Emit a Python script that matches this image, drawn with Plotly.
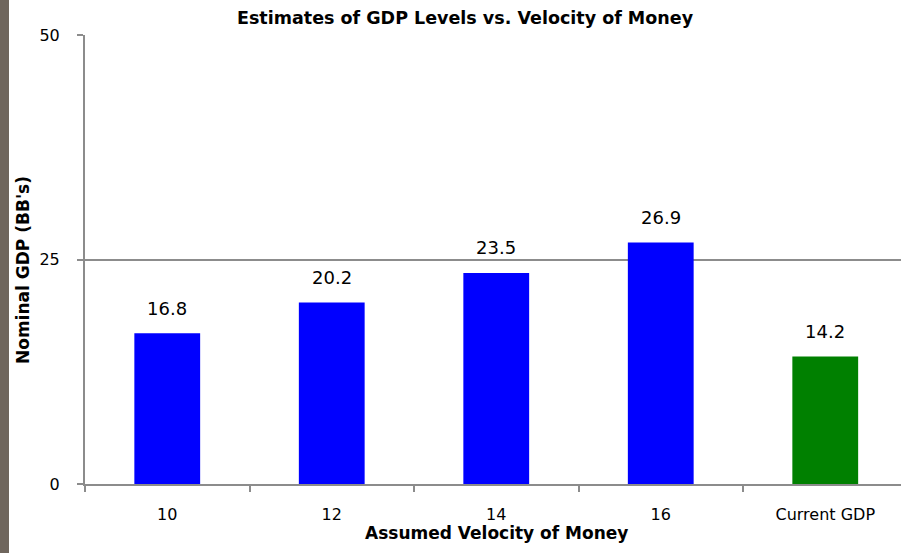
import plotly.graph_objects as go

# data
categories = ["10", "12", "14", "16", "Current GDP"]
gdp_values = [16.8, 20.2, 23.5, 26.9, 14.2]
bar_colors = ["#0000ff", "#0000ff", "#0000ff", "#0000ff", "#008000"]
y_ticks = [0, 25, 50]

W, H = 901, 553
ml, mr, mt, mb = 85, 0, 35, 69
pw = W - ml - mr
ph = H - mt - mb

font = "DejaVu Sans"

fig = go.Figure()
fig.add_trace(go.Bar(
    x=categories,
    y=gdp_values,
    marker=dict(color=bar_colors, line=dict(width=0)),
    width=0.4,
    hoverinfo="x+y",
))

# value labels above the bars (x given as category index)
for i, val in enumerate(gdp_values):
    fig.add_annotation(
        x=i, y=val, text=f"{val:.1f}", showarrow=False,
        xanchor="center", yanchor="middle",
        yshift=25, font=dict(family=font, size=18, color="black"),
    )

# dark strip on the left edge
fig.add_shape(
    type="rect", xref="paper", yref="paper",
    x0=-ml / pw, x1=(9 - ml) / pw, y0=-mb / ph, y1=(H - mb) / ph,
    fillcolor="#6f665d", line=dict(width=0), layer="below",
)


def px_note(text, x, y, size, angle=0):
    # place a text by its centre, given in page pixels
    fig.add_annotation(
        text=text, textangle=angle,
        xref="paper", yref="paper",
        x=(x - ml) / pw, y=(H - mb - y) / ph,
        xanchor="center", yanchor="middle",
        showarrow=False, font=dict(family=font, size=size, color="black"),
    )


px_note("<b>Estimates of GDP Levels vs. Velocity of Money</b>", 465, 18, 17.5)
px_note("<b>Nominal GDP (BB's)</b>", 23, 270, 17, angle=-90)
px_note("<b>Assumed Velocity of Money</b>", 496, 533, 17)

fig.update_layout(
    width=W, height=H,
    margin=dict(l=ml, r=mr, t=mt, b=mb),
    paper_bgcolor="white", plot_bgcolor="white",
    showlegend=False,
    font=dict(family=font, size=16, color="black"),
    xaxis=dict(
        type="category", range=[-0.5, -0.5 + pw / 164.5],
        showline=True, linecolor="#8c8c8c", linewidth=2,
        ticks="outside", tickson="boundaries", ticklen=6,
        tickcolor="#8c8c8c", tickwidth=2,
        showgrid=False, tickfont=dict(size=16), ticklabelstandoff=15,
    ),
    yaxis=dict(
        range=[0, 50], tickvals=y_ticks,
        showline=True, linecolor="#8c8c8c", linewidth=2,
        ticks="outside", ticklen=6, tickcolor="#8c8c8c", tickwidth=2,
        showgrid=True, gridcolor="#8c8c8c", gridwidth=2,
        zeroline=False, tickfont=dict(size=16), ticklabelstandoff=14,
    ),
)

# drop the default body margin so the chart sits flush with the page
fig.write_html("out.html", config={"displayModeBar": False},
               post_script="document.body.style.margin='0';")
